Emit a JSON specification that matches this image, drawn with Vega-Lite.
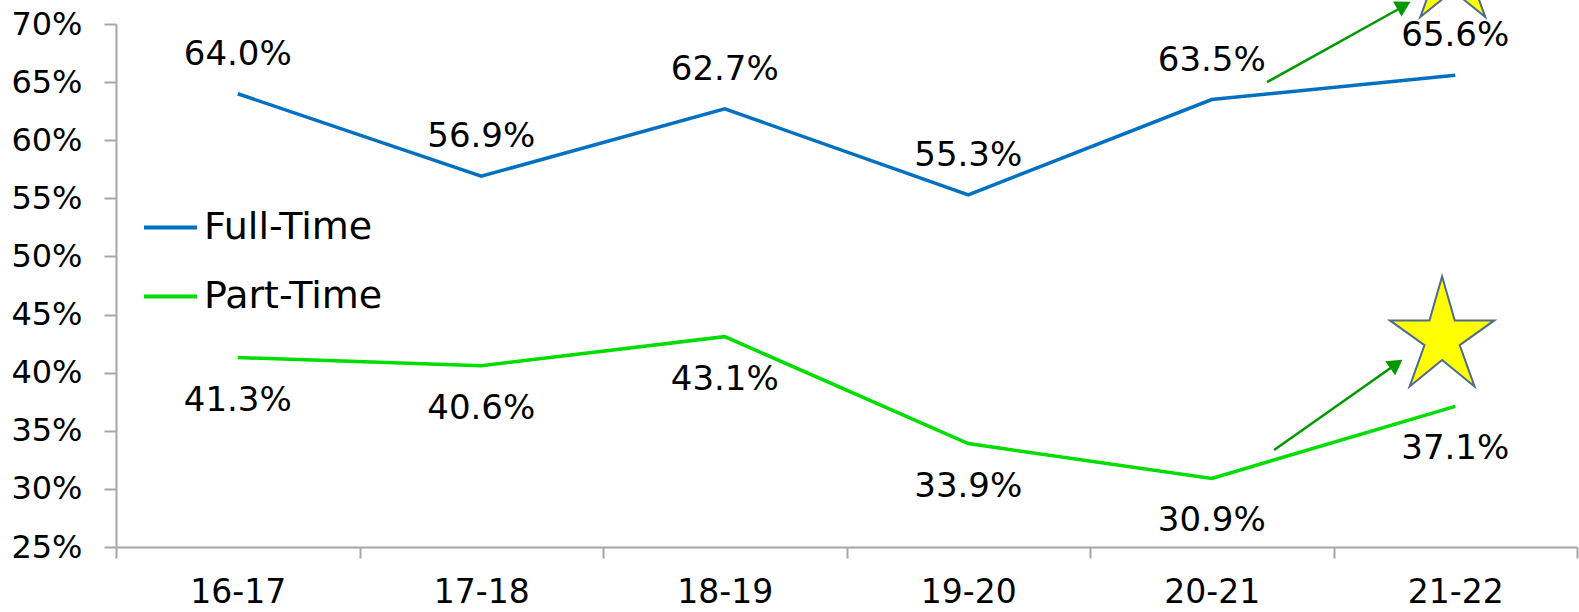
{
  "$schema": "https://vega.github.io/schema/vega-lite/v6.json",
  "width": 1461,
  "height": 523,
  "autosize": {"type": "none"},
  "padding": {"left": 116, "top": 24, "right": 2, "bottom": 65},
  "background": "white",
  "config": {
    "view": {"stroke": null},
    "font": "DejaVu Sans",
    "text": {"font": "DejaVu Sans"}
  },
  "layer": [
    {
      "data": {
        "values": [
          {"year": "16-17", "series": "Full-Time", "rate": 0.640},
          {"year": "17-18", "series": "Full-Time", "rate": 0.569},
          {"year": "18-19", "series": "Full-Time", "rate": 0.627},
          {"year": "19-20", "series": "Full-Time", "rate": 0.553},
          {"year": "20-21", "series": "Full-Time", "rate": 0.635},
          {"year": "21-22", "series": "Full-Time", "rate": 0.656},
          {"year": "16-17", "series": "Part-Time", "rate": 0.413},
          {"year": "17-18", "series": "Part-Time", "rate": 0.406},
          {"year": "18-19", "series": "Part-Time", "rate": 0.431},
          {"year": "19-20", "series": "Part-Time", "rate": 0.339},
          {"year": "20-21", "series": "Part-Time", "rate": 0.309},
          {"year": "21-22", "series": "Part-Time", "rate": 0.371}
        ]
      },
      "encoding": {
        "x": {
          "field": "year",
          "type": "ordinal",
          "bandPosition": 0.5,
          "scale": {"type": "band", "paddingInner": 0, "paddingOuter": 0},
          "axis": {
            "title": null,
            "labelAngle": 0,
            "labelFont": "DejaVu Sans",
            "labelFontSize": 33,
            "labelColor": "#000000",
            "labelPadding": 18,
            "tickBand": "extent",
            "tickSize": 11,
            "tickColor": "#A6A6A6",
            "tickWidth": 2,
            "domainColor": "#A6A6A6",
            "domainWidth": 2,
            "grid": false
          }
        },
        "y": {
          "field": "rate",
          "type": "quantitative",
          "scale": {"domain": [0.25, 0.70], "zero": false, "nice": false},
          "axis": {
            "title": null,
            "format": ".0%",
            "values": [0.25, 0.30, 0.35, 0.40, 0.45, 0.50, 0.55, 0.60, 0.65, 0.70],
            "labelFont": "DejaVu Sans",
            "labelFontSize": 32,
            "labelColor": "#000000",
            "labelPadding": 22,
            "tickSize": 12,
            "tickColor": "#A6A6A6",
            "tickWidth": 2,
            "domainColor": "#A6A6A6",
            "domainWidth": 2,
            "grid": false
          }
        }
      },
      "layer": [
        {
          "mark": {"type": "line", "strokeWidth": 3.5},
          "encoding": {
            "color": {
              "field": "series",
              "type": "nominal",
              "scale": {"domain": ["Full-Time", "Part-Time"], "range": ["#0070C0", "#00DD00"]},
              "legend": {
                "title": null,
                "orient": "none",
                "legendX": 26,
                "legendY": 175,
                "direction": "vertical",
                "symbolType": "stroke",
                "symbolSize": 2809,
                "symbolStrokeWidth": 4,
                "labelFont": "DejaVu Sans",
                "labelFontSize": 38,
                "labelColor": "#000000",
                "labelOffset": 5,
                "labelLimit": 400,
                "rowPadding": 21
              }
            }
          }
        },
        {
          "transform": [{"filter": "datum.series === 'Full-Time'"}],
          "mark": {"type": "text", "dy": -39, "baseline": "middle", "fontSize": 34, "color": "#000000"},
          "encoding": {"text": {"field": "rate", "type": "quantitative", "format": ".1%"}}
        },
        {
          "transform": [{"filter": "datum.series === 'Part-Time'"}],
          "mark": {"type": "text", "dy": 43, "baseline": "middle", "fontSize": 34, "color": "#000000"},
          "encoding": {"text": {"field": "rate", "type": "quantitative", "format": ".1%"}}
        }
      ]
    },
    {
      "layer": [
        {
          "data": {
            "values": [
              {"ax": 4.727, "ay": 0.650, "bx": 5.290, "by": 0.7155},
              {"ax": 4.756, "ay": 0.3335, "bx": 5.258, "by": 0.4075}
            ]
          },
          "mark": {"type": "rule", "color": "#009900", "strokeWidth": 2.5},
          "encoding": {
            "x": {"field": "ax", "type": "quantitative", "scale": {"domain": [0, 6], "nice": false, "zero": false}, "axis": null},
            "y": {"field": "ay", "type": "quantitative", "scale": {"domain": [0.25, 0.70], "nice": false, "zero": false}, "axis": null},
            "x2": {"field": "bx"},
            "y2": {"field": "by"}
          }
        },
        {
          "data": {"values": [{"px": 5.289, "py": 0.716}]},
          "mark": {"type": "point", "shape": "triangle-up", "size": 300, "filled": true, "color": "#009900", "opacity": 1, "angle": 61},
          "encoding": {
            "x": {"field": "px", "type": "quantitative", "scale": {"domain": [0, 6], "nice": false, "zero": false}, "axis": null},
            "y": {"field": "py", "type": "quantitative", "scale": {"domain": [0.25, 0.70], "nice": false, "zero": false}, "axis": null}
          }
        },
        {
          "data": {"values": [{"px": 5.258, "py": 0.4075}]},
          "mark": {"type": "point", "shape": "triangle-up", "size": 300, "filled": true, "color": "#009900", "opacity": 1, "angle": 55},
          "encoding": {
            "x": {"field": "px", "type": "quantitative", "scale": {"domain": [0, 6], "nice": false, "zero": false}, "axis": null},
            "y": {"field": "py", "type": "quantitative", "scale": {"domain": [0.25, 0.70], "nice": false, "zero": false}, "axis": null}
          }
        },
        {
          "data": {
            "values": [
              {"sx": 5.490, "sy": 0.7533},
              {"sx": 5.446, "sy": 0.4355}
            ]
          },
          "mark": {
            "type": "point",
            "shape": "M0,-1L0.23,-0.2L0.95,-0.2L0.32,0.25L0.59,1L0,0.52L-0.59,1L-0.32,0.25L-0.95,-0.2L-0.23,-0.2Z",
            "size": 12100,
            "filled": true,
            "fill": "#FFFF00",
            "stroke": "#4F6A8F",
            "strokeWidth": 2,
            "opacity": 1,
            "fillOpacity": 1
          },
          "encoding": {
            "x": {"field": "sx", "type": "quantitative", "scale": {"domain": [0, 6], "nice": false, "zero": false}, "axis": null},
            "y": {"field": "sy", "type": "quantitative", "scale": {"domain": [0.25, 0.70], "nice": false, "zero": false}, "axis": null}
          }
        }
      ]
    }
  ],
  "resolve": {"scale": {"x": "independent", "y": "independent"}}
}
